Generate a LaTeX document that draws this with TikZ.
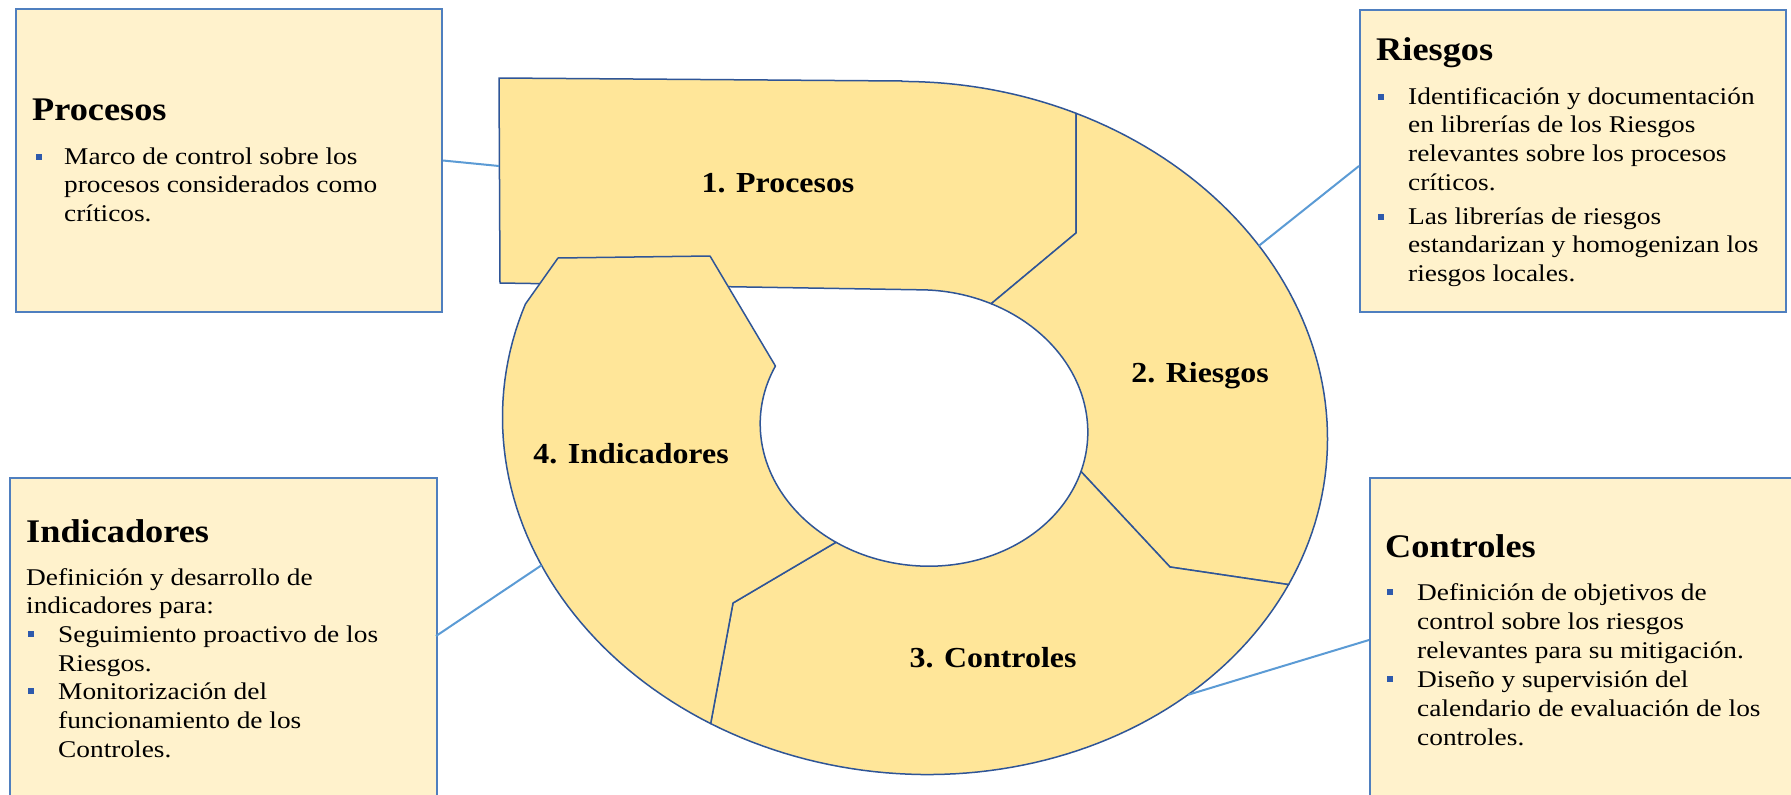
\documentclass[tikz,border=0pt]{standalone}
\usepackage{fontspec}
\setmainfont{Liberation Serif}[FakeStretch=1.1]
\newfontfamily\bodyfont{Liberation Serif}[FakeStretch=1.14]
\definecolor{ringfill}{HTML}{FFE699}
\definecolor{ringline}{HTML}{2F5597}
\definecolor{boxfill}{HTML}{FFF2CC}
\definecolor{boxline}{HTML}{4F7FBF}
\definecolor{connline}{HTML}{5B9BD5}
\definecolor{bulletblue}{HTML}{2E5AAC}
\pgfmathdeclarefunction{ox}{1}{\pgfmathparse{915+413*cos(#1)*0.99619-346*sin(#1)*0.08716}}
\pgfmathdeclarefunction{oy}{1}{\pgfmathparse{428+413*cos(#1)*0.08716+346*sin(#1)*0.99619}}
\pgfmathdeclarefunction{ix}{1}{\pgfmathparse{924+164*cos(#1)*0.99619-138*sin(#1)*0.08716}}
\pgfmathdeclarefunction{iy}{1}{\pgfmathparse{428+164*cos(#1)*0.08716+138*sin(#1)*0.99619}}
\tikzset{
  seg/.style={fill=ringfill, draw=ringline, line width=1.5pt, line join=round},
  infobox/.style={rectangle, fill=boxfill, draw=boxline, line width=2pt, inner sep=0, anchor=north west},
  conn/.style={draw=connline, line width=2pt},
  body/.style={font=\bodyfont\fontsize{24}{28.8}\selectfont, anchor=base west, inner sep=0},
  ttl/.style={font=\bfseries\fontsize{33}{40}\selectfont, anchor=base west, inner sep=0},
  lbl/.style={font=\bfseries\fontsize{29}{35}\selectfont, anchor=base, inner sep=0},
  bul/.style={rectangle, fill=bulletblue, minimum size=6pt, inner sep=0}
}
\begin{document}
\begin{tikzpicture}[x=1pt,y=-1pt]
\clip (0,0) rectangle (1791,795);
\fill[white] (0,0) rectangle (1791,795);
% boxes
\node[infobox, minimum width=426pt, minimum height=303pt] (bP) at (15,8) {};
\node[infobox, minimum width=426pt, minimum height=302pt] (bR) at (1359,9) {};
\node[infobox, minimum width=427pt, minimum height=340pt] (bI) at (9,477) {};
\node[infobox, minimum width=440pt, minimum height=340pt] (bC) at (1369,477) {};
% divider points
\coordinate (k12) at (1076,233);
\coordinate (k23) at (1170,567);
\coordinate (k34) at (733,603);
% ring segments
\filldraw[seg] (499,78) -- (902,81)
  -- plot[domain=-96:-71.2, samples=30, variable=\t] ({ox(\t)},{oy(\t)})
  -- (k12)
  -- plot[domain=-70:-96, samples=30, variable=\t] ({ix(\t)},{iy(\t)})
  -- (500,283) -- cycle;
\filldraw[seg] plot[domain=-71.2:20.9, samples=60, variable=\t] ({ox(\t)},{oy(\t)})
  -- (k23)
  -- plot[domain=12.4:-70, samples=50, variable=\t] ({ix(\t)},{iy(\t)})
  -- (k12) -- cycle;
\filldraw[seg] plot[domain=20.9:115.5, samples=60, variable=\t] ({ox(\t)},{oy(\t)})
  -- (k34)
  -- plot[domain=118.3:12.4, samples=60, variable=\t] ({ix(\t)},{iy(\t)})
  -- (k23) -- cycle;
\filldraw[seg] plot[domain=115.5:195, samples=50, variable=\t] ({ox(\t)},{oy(\t)})
  -- (558,258) -- (710,256)
  -- plot[domain=200.7:118.3, samples=50, variable=\t] ({ix(\t)},{iy(\t)})
  -- (k34) -- cycle;
% connector end points
\coordinate (pE) at (499,166);
\coordinate (rE) at ({ox(-37.7)},{oy(-37.7)});
\coordinate (cE) at ({ox(44.4)},{oy(44.4)});
\coordinate (iE) at ({ox(150.7)},{oy(150.7)});
\coordinate (rB) at (1359,166);
\coordinate (iB) at (436,636);
\coordinate (cB) at (1369,640);
\draw[conn] (bP.east) -- (pE);
\draw[conn] (rB) -- (rE);
\draw[conn] (iB) -- (iE);
\draw[conn] (cB) -- (cE);
% ring labels
\node[lbl] (l1) at (778,192) {1. Procesos};
\node[lbl] (l2) at (1200,382) {2. Riesgos};
\node[lbl] (l3) at (993,667) {3. Controles};
\node[lbl] (l4) at (631,463) {4. Indicadores};
% Procesos box text
\node[ttl] (tP) at (32,120) {Procesos};
\node[bul] (bp1) at (39,157) {};
\foreach \l [count=\i from 0] in {{Marco de control sobre los},{procesos considerados como},{críticos.}}
  \node[body] (p-\i) at (64,{164+28.8*\i}) {\l};
% Riesgos box text
\node[ttl] (tR) at (1376,60) {Riesgos};
\node[bul] (br1) at (1381,97) {};
\node[bul] (br2) at (1381,217) {};
\foreach \l [count=\i from 0] in {{Identificación y documentación},{en librerías de los Riesgos},{relevantes sobre los procesos},{críticos.}}
  \node[body] (ra-\i) at (1408,{104+28.8*\i}) {\l};
\foreach \l [count=\i from 0] in {{Las librerías de riesgos},{estandarizan y homogenizan los},{riesgos locales.}}
  \node[body] (rb-\i) at (1408,{224+28.8*\i}) {\l};
% Indicadores box text
\node[ttl] (tI) at (26,542) {Indicadores};
\node[body] (ia-0) at (26,585) {Definición y desarrollo de};
\node[body] (ia-1) at (26,613.7) {indicadores para:};
\node[bul] (bi1) at (31,634) {};
\node[bul] (bi2) at (31,691) {};
\foreach \l [count=\i from 2] in {{Seguimiento proactivo de los},{Riesgos.},{Monitorización del},{funcionamiento de los},{Controles.}}
  \node[body] (ib-\i) at (58,{585+28.7*\i}) {\l};
% Controles box text
\node[ttl] (tC) at (1385,557) {Controles};
\node[bul] (bc1) at (1390,592) {};
\node[bul] (bc2) at (1390,679) {};
\foreach \l [count=\i from 0] in {{Definición de objetivos de},{control sobre los riesgos},{relevantes para su mitigación.},{Diseño y supervisión del},{calendario de evaluación de los},{controles.}}
  \node[body] (c-\i) at (1417,{600+29*\i}) {\l};
\end{tikzpicture}
\end{document}
